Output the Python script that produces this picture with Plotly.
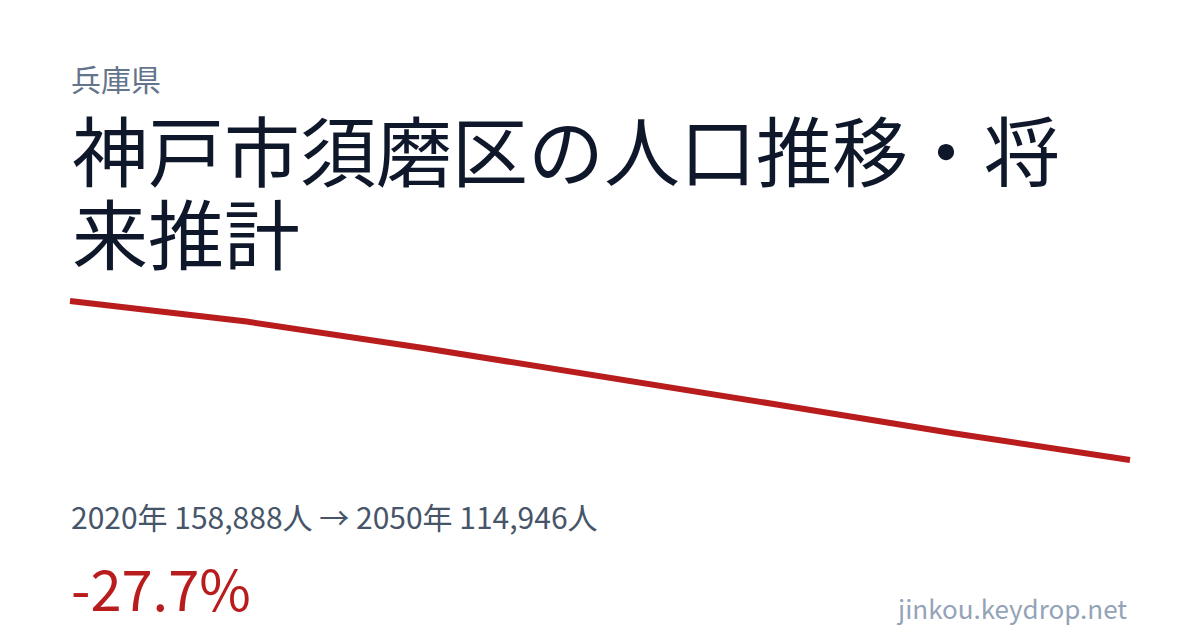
import plotly.graph_objects as go

W = 1200
H = 630

# data
years = [2020, 2025, 2030, 2035, 2040, 2045, 2050]
population = [158888, 153200, 145900, 138200, 130300, 122350, 114946]

prefecture = "兵庫県"
title_lines = ["神戸市須磨区の人口推移・将", "来推計"]
footer = "jinkou.keydrop.net"

FONT = "Noto Sans CJK JP"
RED = "#b91c1c"

# plot area in pixels (line runs 70..1130 horizontally, 301..460 vertically)
ML, MR, MT, MB = 60, 60, 290, 160
X0, X1 = 70, 1130
Y0, Y1 = 301, 460


def px(xpx):
    return (xpx - ML) / (W - ML - MR)


def py(ypx):
    return (H - MB - ypx) / (H - MT - MB)


first, last = population[0], population[-1]
start_year, end_year = years[0], years[-1]
change = (last - first) / first * 100

# pad axis ranges so the thick line is not clipped at the ends
yr_per_px = (end_year - start_year) / (X1 - X0)
pop_per_px = (max(population) - min(population)) / (Y1 - Y0)
xrange = [start_year - (X0 - ML) * yr_per_px,
          end_year + (W - MR - X1) * yr_per_px]
yrange = [min(population) - ((H - MB) - Y1) * pop_per_px,
          max(population) + (Y0 - MT) * pop_per_px]

fig = go.Figure()
fig.add_trace(
    go.Scatter(
        x=years, y=population,
        mode="lines",
        line=dict(color=RED, width=6),
        hoverinfo="skip",
    )
)

stats = "{}年 {:,}人 → {}年 {:,}人".format(start_year, first, end_year, last)

annotations = [
    dict(text=prefecture, x=px(69), y=py(78), font=dict(size=30, color="#64748b")),
    dict(text=title_lines[0], x=px(70), y=py(148), font=dict(size=76, color="#0f172a")),
    dict(text=title_lines[1], x=px(70), y=py(231), font=dict(size=76, color="#0f172a")),
    dict(text=stats, x=px(69), y=py(516), font=dict(size=30, color="#475569")),
    dict(text="{:.1f}%".format(change), x=px(69), y=py(586), font=dict(size=56, color=RED)),
]
for a in annotations:
    a.update(xref="paper", yref="paper", xanchor="left", yanchor="middle",
             showarrow=False, align="left")

annotations.append(
    dict(text=footer, x=px(1129), y=py(607), xref="paper", yref="paper",
         xanchor="right", yanchor="middle", showarrow=False,
         font=dict(size=26, color="#94a3b8"))
)

fig.update_layout(
    width=W, height=H,
    margin=dict(l=ML, r=MR, t=MT, b=MB),
    paper_bgcolor="white",
    plot_bgcolor="white",
    showlegend=False,
    font=dict(family=FONT),
    annotations=annotations,
)
fig.update_xaxes(range=xrange, visible=False, fixedrange=True)
fig.update_yaxes(range=yrange, visible=False, fixedrange=True)

# drop the default page margin so the figure sits at the window's top-left
fig.write_html("out.html", config={"displayModeBar": False},
               post_script="document.body.style.margin='0';")
